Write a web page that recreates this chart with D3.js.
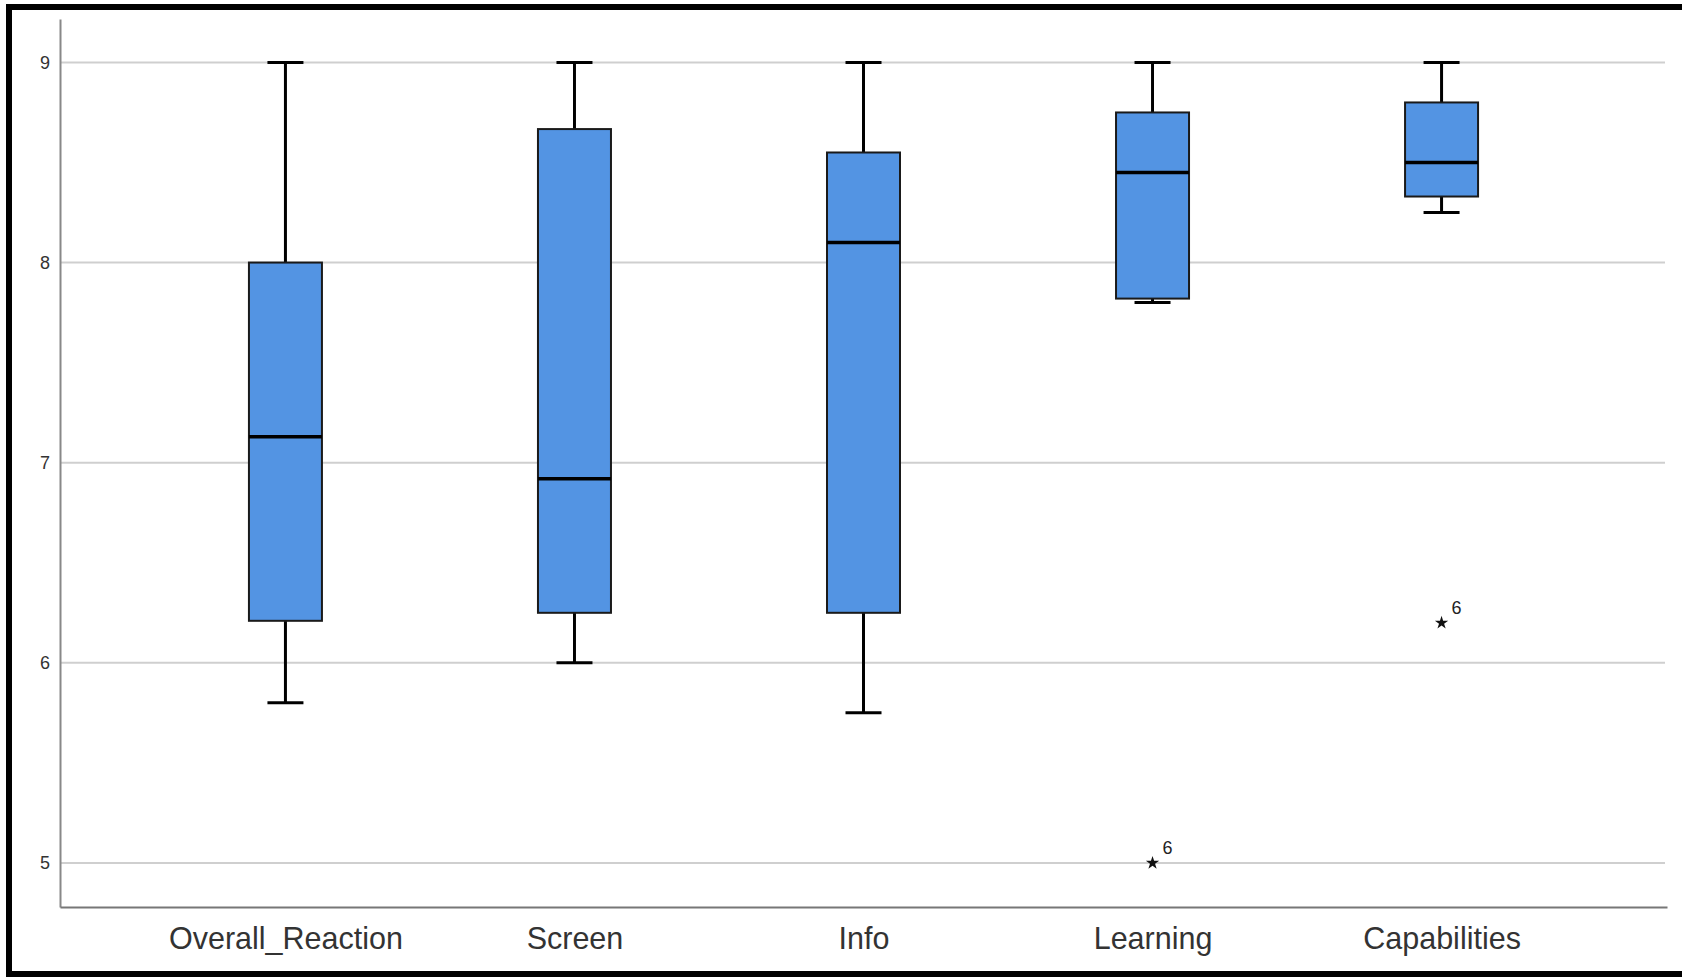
<!DOCTYPE html>
<html>
<head>
<meta charset="utf-8">
<script src="https://cdn.jsdelivr.net/npm/d3@7"></script>
<style>
  body { margin: 0; background: #fff; }
  text { font-family: "Liberation Sans", Arial, sans-serif; }
</style>
</head>
<body>
<div id="chart"></div>
<script>
// box plot data
const categories = ["Overall_Reaction", "Screen", "Info", "Learning", "Capabilities"];
const maxVals = [9, 9, 9, 9, 9];
const q3Vals = [8.0, 8.667, 8.55, 8.75, 8.80];
const medians = [7.13, 6.92, 8.10, 8.45, 8.50];
const q1Vals = [6.21, 6.25, 6.25, 7.82, 8.33];
const minVals = [5.80, 6.00, 5.75, 7.80, 8.25];

// extreme outliers (case number shown next to the star)
const outlierCats = ["Learning", "Capabilities"];
const outlierValues = [5.0, 6.2];
const outlierLabels = ["6", "6"];

const yTicks = [5, 6, 7, 8, 9];

const W = 1682, H = 977;
const plot = {left: 60, right: 1667, top: 19, bottom: 907};

const svg = d3.select("#chart")
    .append("svg")
    .attr("width", W)
    .attr("height", H);

// outer black frame (no right edge visible)
svg.append("rect")
    .attr("x", 9).attr("y", 7)
    .attr("width", W + 20).attr("height", 967)
    .attr("fill", "none")
    .attr("stroke", "#000")
    .attr("stroke-width", 6);

const y = d3.scaleLinear()
    .domain([4.78, 9.217])
    .range([plot.bottom, plot.top]);

const x = d3.scalePoint()
    .domain(categories)
    .range([plot.left, plot.right])
    .padding(0.78);

const boxW = 73, capW = 36;

// gridlines
svg.append("g")
    .selectAll("line")
    .data(yTicks)
    .join("line")
    .attr("x1", plot.left).attr("x2", plot.right - 2)
    .attr("y1", d => y(d)).attr("y2", d => y(d))
    .attr("stroke", "#cfcfcf")
    .attr("stroke-width", 2);

// y axis
const yAxis = svg.append("g")
    .attr("transform", `translate(${plot.left},0)`)
    .call(d3.axisLeft(y).tickValues(yTicks).tickSize(0).tickPadding(10).tickFormat(d3.format("d")));
yAxis.select(".domain").attr("stroke", "#888").attr("stroke-width", 2);
yAxis.selectAll("text")
    .style("font-size", "18px")
    .attr("fill", "#333");

// x axis
const xAxis = svg.append("g")
    .attr("transform", `translate(0,${plot.bottom})`)
    .call(d3.axisBottom(x).tickSize(0).tickPadding(20));
xAxis.select(".domain").attr("stroke", "#777").attr("stroke-width", 2);
xAxis.selectAll("text")
    .style("font-size", "30.5px")
    .attr("fill", "#333");

// boxes
const boxes = svg.append("g")
    .selectAll("g")
    .data(categories)
    .join("g")
    .attr("transform", d => `translate(${x(d)},0)`);

// whiskers
boxes.append("line")
    .attr("y1", (d, i) => y(maxVals[i])).attr("y2", (d, i) => y(q3Vals[i]))
    .attr("stroke", "#000").attr("stroke-width", 3);
boxes.append("line")
    .attr("y1", (d, i) => y(minVals[i])).attr("y2", (d, i) => y(q1Vals[i]))
    .attr("stroke", "#000").attr("stroke-width", 3);
boxes.append("line")
    .attr("x1", -capW / 2).attr("x2", capW / 2)
    .attr("y1", (d, i) => y(maxVals[i])).attr("y2", (d, i) => y(maxVals[i]))
    .attr("stroke", "#000").attr("stroke-width", 3);
boxes.append("line")
    .attr("x1", -capW / 2).attr("x2", capW / 2)
    .attr("y1", (d, i) => y(minVals[i])).attr("y2", (d, i) => y(minVals[i]))
    .attr("stroke", "#000").attr("stroke-width", 3);

boxes.append("rect")
    .attr("x", -boxW / 2)
    .attr("y", (d, i) => y(q3Vals[i]))
    .attr("width", boxW)
    .attr("height", (d, i) => y(q1Vals[i]) - y(q3Vals[i]))
    .attr("fill", "#5394e3")
    .attr("stroke", "#1a1a1a")
    .attr("stroke-width", 2);

boxes.append("line")
    .attr("x1", -boxW / 2).attr("x2", boxW / 2)
    .attr("y1", (d, i) => y(medians[i])).attr("y2", (d, i) => y(medians[i]))
    .attr("stroke", "#000").attr("stroke-width", 3.5);

// outliers
const outs = svg.append("g")
    .selectAll("g")
    .data(outlierCats)
    .join("g")
    .attr("transform", (d, i) => `translate(${x(d)},${y(outlierValues[i])})`);

outs.append("path")
    .attr("d", d3.symbol().type(d3.symbolStar).size(55))
    .attr("fill", "#111");

outs.append("text")
    .attr("x", 15).attr("y", -9)
    .attr("text-anchor", "middle")
    .style("font-size", "18px")
    .attr("fill", "#222")
    .text((d, i) => outlierLabels[i]);
</script>
</body>
</html>
